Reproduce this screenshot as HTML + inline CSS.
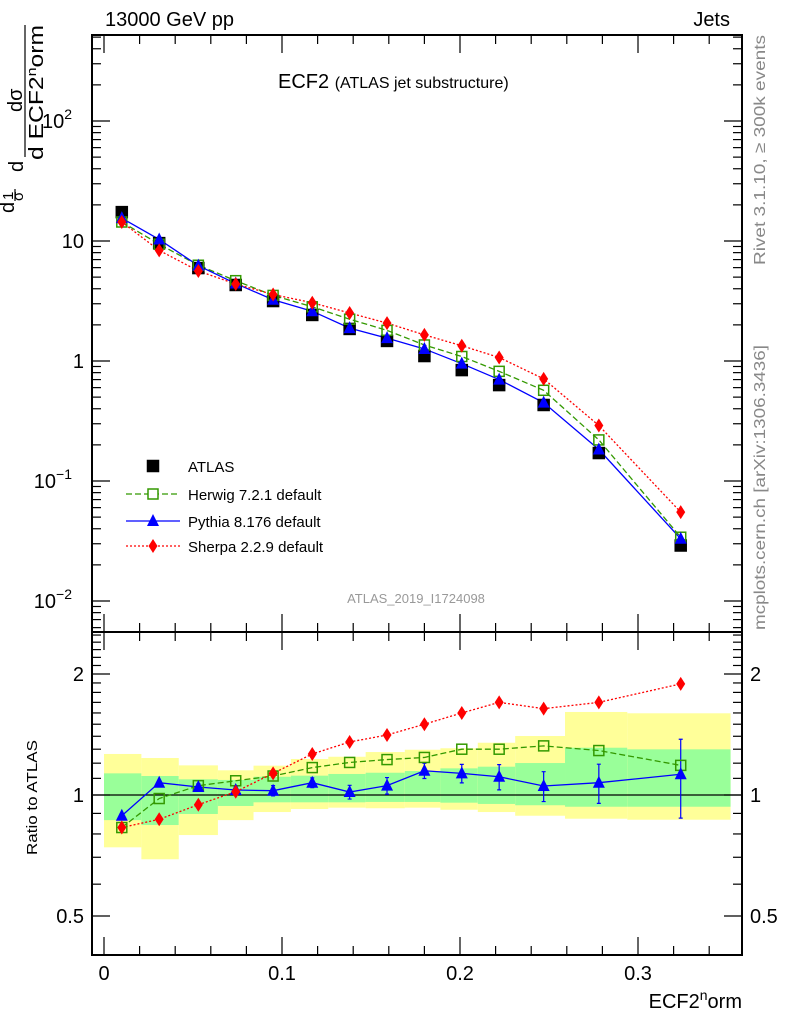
<!DOCTYPE html>
<html><head><meta charset="utf-8"><style>
body{margin:0;background:#fff;}
svg{display:block;font-family:"Liberation Sans",sans-serif;}
</style></head><body>
<svg id="c" width="786" height="1024" viewBox="0 0 786 1024">
<g id="bands"></g>
<g id="marks"></g>
<g id="axes"></g>
<text x="105" y="26" font-size="20">13000 GeV pp</text>
<text x="730" y="26" font-size="20" text-anchor="end">Jets</text>
<text x="278" y="88" font-size="20">ECF2 <tspan font-size="16">(ATLAS jet substructure)</tspan></text>
<text x="416" y="603" font-size="13" fill="#999" text-anchor="middle">ATLAS_2019_I1724098</text>
<text transform="translate(765,265) rotate(-90)" font-size="16" fill="#888" textLength="230" lengthAdjust="spacingAndGlyphs">Rivet 3.1.10, ≥ 300k events</text>
<text transform="translate(765,630) rotate(-90)" font-size="16" fill="#888" textLength="285" lengthAdjust="spacingAndGlyphs">mcplots.cern.ch [arXiv:1306.3436]</text>
<g font-size="20">
<text transform="translate(14,213) rotate(-90)">d</text>
<text transform="translate(13,200) rotate(-90)" font-size="15">1</text>
<line x1="15" y1="201" x2="15" y2="189" stroke="#000" stroke-width="1.2"/>
<text transform="translate(23,201) rotate(-90)" font-size="15">σ</text>
<text transform="translate(23,172) rotate(-90)">d</text>
<text transform="translate(22,112) rotate(-90)">dσ</text>
<line x1="25" y1="157" x2="25" y2="25" stroke="#000" stroke-width="1.2"/>
<text transform="translate(43,160) rotate(-90)" textLength="135" lengthAdjust="spacingAndGlyphs">d ECF2<tspan dy="-7" font-size="13">n</tspan><tspan dy="7">orm</tspan></text>
</g>
<text transform="translate(37,855) rotate(-90)" font-size="15" textLength="115" lengthAdjust="spacingAndGlyphs">Ratio to ATLAS</text>
<text x="742" y="1008" font-size="20" text-anchor="end">ECF2<tspan dy="-8" font-size="14">n</tspan><tspan dy="8">orm</tspan></text>
</svg>
<script>
const binEdges=[0,0.021,0.042,0.064,0.084,0.105,0.126,0.147,0.169,0.189,0.21,0.231,0.259,0.294,0.352];
const binCenters=[0.010,0.031,0.053,0.074,0.095,0.117,0.138,0.159,0.180,0.201,0.222,0.247,0.278,0.324];
const atlas=[17.4,9.6,5.95,4.3,3.16,2.42,1.85,1.47,1.1,0.84,0.63,0.43,0.171,0.029];
const herwig=[14.4,9.4,6.28,4.67,3.52,2.83,2.23,1.80,1.36,1.09,0.82,0.57,0.22,0.034];
const pythia=[15.5,10.3,6.23,4.42,3.24,2.60,1.88,1.55,1.26,0.95,0.70,0.45,0.183,0.033];
const sherpa=[14.4,8.35,5.63,4.38,3.58,3.06,2.51,2.07,1.65,1.34,1.07,0.71,0.29,0.055];
const herwigRatio=[0.83,0.98,1.055,1.085,1.115,1.17,1.205,1.225,1.24,1.30,1.30,1.325,1.29,1.185];
const pythiaRatio=[0.888,1.073,1.047,1.029,1.025,1.073,1.017,1.055,1.149,1.132,1.110,1.053,1.073,1.126];
const pythiaRatioErr=[0.01,0.01,0.02,0.02,0.03,0.03,0.04,0.05,0.05,0.06,0.08,0.09,0.12,0.25];
const sherpaRatio=[0.83,0.87,0.946,1.019,1.132,1.265,1.355,1.41,1.50,1.60,1.70,1.64,1.70,1.89];
const yellowHi=[1.265,1.236,1.185,1.152,1.183,1.229,1.245,1.279,1.296,1.307,1.349,1.402,1.609,1.597];
const yellowLo=[0.741,0.692,0.795,0.866,0.907,0.923,0.930,0.927,0.930,0.919,0.907,0.888,0.873,0.868];
const greenHi=[1.132,1.115,1.094,1.090,1.110,1.117,1.128,1.136,1.147,1.165,1.176,1.201,1.311,1.299];
const greenLo=[0.866,0.842,0.897,0.939,0.959,0.959,0.959,0.961,0.961,0.957,0.950,0.943,0.935,0.935];
const xTicks=[0,0.1,0.2,0.3];
const xTickLabels=["0","0.1","0.2","0.3"];
const ratioTicks=[0.5,1,2];
const ratioTickLabels=["0.5","1","2"];

const NS="http://www.w3.org/2000/svg";
const L=92,R=742,T=35,M=632,B=955;
const X=v=>104+1780*v;
const Y=v=>361-120*Math.log10(v);
const YR=r=>795-121*Math.log2(r);
function mk(p,tag,at){const e=document.createElementNS(NS,tag);for(const k in at)e.setAttribute(k,at[k]);p.appendChild(e);return e;}
const bands=document.getElementById('bands'),marks=document.getElementById('marks'),axes=document.getElementById('axes');

for(let i=0;i<binCenters.length;i++){
  const x0=X(binEdges[i]),x1=X(binEdges[i+1]);
  const y=mk(bands,'rect',{x:x0,y:YR(yellowHi[i]),width:x1-x0,height:YR(yellowLo[i])-YR(yellowHi[i]),fill:'#ffff99'});
  
  
  const g=mk(bands,'rect',{x:x0,y:YR(greenHi[i]),width:x1-x0,height:YR(greenLo[i])-YR(greenHi[i]),fill:'#99ff99'});
  
  
}
const one=mk(bands,'line',{x1:L,x2:R,y1:YR(1),y2:YR(1),stroke:'#000','stroke-width':1.2});



function line(vals,fy,col,dash,name){
  const p=mk(marks,'polyline',{points:vals.map((v,i)=>X(binCenters[i])+','+fy(v)).join(' '),fill:'none',stroke:col,'stroke-width':1.3,'stroke-dasharray':dash});
  
  
}
function sq(x,y,col,fill,s,name){const e=mk(marks,'rect',{x:x-s,y:y-s,width:2*s,height:2*s,fill:fill,stroke:col,'stroke-width':1.5});
  
  }
function tri(x,y,name){const e=mk(marks,'polygon',{points:`${x},${y-7} ${x-6},${y+5} ${x+6},${y+5}`,fill:'#0000ff'});
  
  }
function dia(x,y,name){const e=mk(marks,'polygon',{points:`${x},${y-7} ${x-4.5},${y} ${x},${y+7} ${x+4.5},${y}`,fill:'#ff0000'});
  
  }

line(herwig,Y,'#339900','6,3','herwig-line');
line(pythia,Y,'#0000ff','none','pythia-line');
line(sherpa,Y,'#ff0000','2,2','sherpa-line');
atlas.forEach((v,i)=>sq(X(binCenters[i]),Y(v),'#000','#000',5.5,'atlas-point'));
herwig.forEach((v,i)=>sq(X(binCenters[i]),Y(v),'#339900','none',5,'herwig-point'));
pythia.forEach((v,i)=>tri(X(binCenters[i]),Y(v),'pythia-point'));
sherpa.forEach((v,i)=>dia(X(binCenters[i]),Y(v),'sherpa-point'));
line(herwigRatio,YR,'#339900','6,3','herwig-ratio-line');
line(pythiaRatio,YR,'#0000ff','none','pythia-ratio-line');
line(sherpaRatio,YR,'#ff0000','2,2','sherpa-ratio-line');
pythiaRatio.forEach((v,i)=>{const x=X(binCenters[i]);
  const e=mk(marks,'path',{d:`M${x},${YR(v+pythiaRatioErr[i])}V${YR(v-pythiaRatioErr[i])}M${x-2},${YR(v+pythiaRatioErr[i])}h4M${x-2},${YR(v-pythiaRatioErr[i])}h4`,stroke:'#0000ff','stroke-width':1.2,fill:'none'});
  
  });
herwigRatio.forEach((v,i)=>sq(X(binCenters[i]),YR(v),'#339900','none',5,'herwig-ratio-point'));
pythiaRatio.forEach((v,i)=>tri(X(binCenters[i]),YR(v),'pythia-ratio-point'));
sherpaRatio.forEach((v,i)=>dia(X(binCenters[i]),YR(v),'sherpa-ratio-point'));

const leg=[['ATLAS',466],['Herwig 7.2.1 default',494],['Pythia 8.176 default',521],['Sherpa 2.2.9 default',546]];
leg.forEach(([t,y],i)=>{
  const tx=mk(marks,'text',{x:188,y:y+6,'font-size':15});tx.textContent=t;
  
  
  if(i==0)sq(153,y,'#000','#000',5.5,'legend-atlas-marker');
  if(i==1){mk(marks,'line',{x1:126,x2:180,y1:y,y2:y,stroke:'#339900','stroke-width':1.3,'stroke-dasharray':'6,3'});sq(153,y,'#339900','#fff',5,'legend-herwig-marker');}
  if(i==2){mk(marks,'line',{x1:126,x2:180,y1:y,y2:y,stroke:'#0000ff','stroke-width':1.3});tri(153,y,'legend-pythia-marker');}
  if(i==3){mk(marks,'line',{x1:126,x2:180,y1:y,y2:y,stroke:'#ff0000','stroke-width':1.3,'stroke-dasharray':'2,2'});dia(153,y,'legend-sherpa-marker');}
});

mk(axes,'rect',{x:L,y:T,width:R-L,height:M-T,fill:'none',stroke:'#000','stroke-width':2});
mk(axes,'rect',{x:L,y:M,width:R-L,height:B-M,fill:'none',stroke:'#000','stroke-width':2});
function tk(x1,y1,x2,y2){mk(axes,'line',{x1,y1,x2,y2,stroke:'#000','stroke-width':1.2});}
for(let e=-3;e<=3;e++)for(let m=1;m<10;m++){const v=m*Math.pow(10,e);const y=Y(v);if(y<T||y>M)continue;const len=m==1?18:9;tk(L,y,L+len,y);tk(R,y,R-len,y);}
const mainLabels=[[2,'10','2'],[1,'10',''],[0,'1',''],[-1,'10','−1'],[-2,'10','−2']];
mainLabels.forEach(([e,b,s])=>{const t=mk(axes,'text',{x:s?72:84,y:Y(Math.pow(10,e))+7,'font-size':20,'text-anchor':'end'});t.textContent=b;
  if(s){const sp=mk(t,'tspan',{dy:-9,'font-size':14});sp.textContent=s;}
  
  });
for(let k=0;k<=17;k++){const v=k*0.02;const x=X(v);if(x>R)continue;const maj=Math.abs(v*10-Math.round(v*10))<1e-6;const len=maj?18:9;
  tk(x,B,x,B-len);tk(x,M,x,M+len);tk(x,M,x,M-len);tk(x,T,x,T+len);}
xTicks.forEach((v,i)=>{const t=mk(axes,'text',{x:X(v),y:980,'font-size':20,'text-anchor':'middle'});t.textContent=xTickLabels[i];
  
  });
const minorR=[0.4,0.5,0.6,0.7,0.8,0.9,1,1.1,1.2,1.3,1.4,1.5,1.6,1.7,1.8,1.9,2,2.1,2.2,2.3,2.4,2.5];
minorR.forEach(v=>{const y=YR(v);if(y<M||y>B)return;const maj=ratioTicks.includes(v);const len=maj?18:9;tk(L,y,L+len,y);tk(R,y,R-len,y);});
ratioTicks.forEach((v,i)=>{
  const t=mk(axes,'text',{x:84,y:YR(v)+7,'font-size':20,'text-anchor':'end'});t.textContent=ratioTickLabels[i];
  
  
  const t2=mk(axes,'text',{x:750,y:YR(v)+7,'font-size':20});t2.textContent=ratioTickLabels[i];
  
  });
</script>
</body></html>
